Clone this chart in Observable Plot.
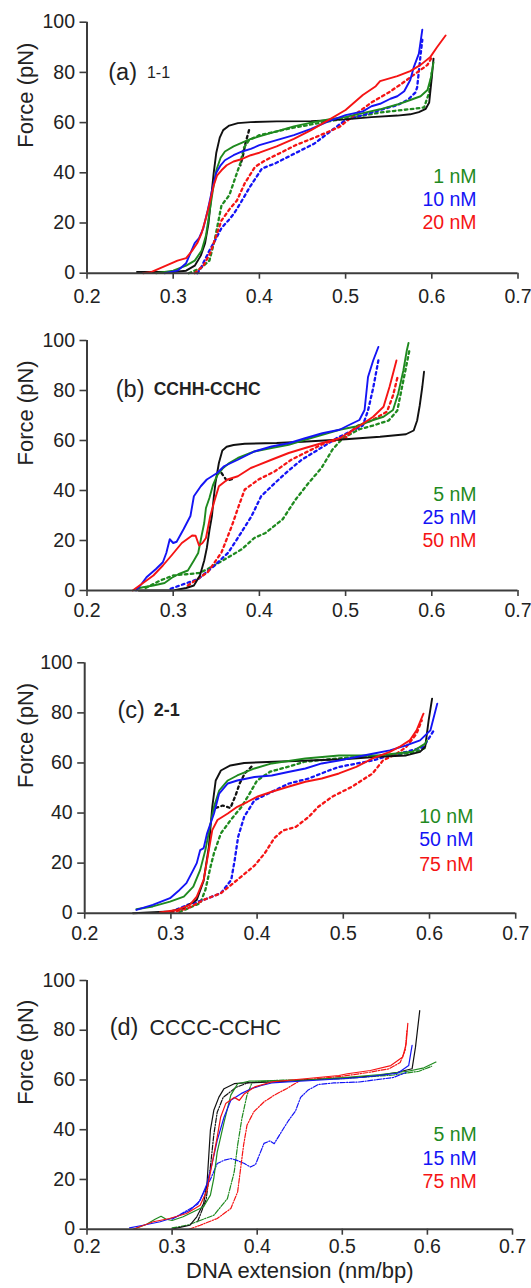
<!DOCTYPE html>
<html><head><meta charset="utf-8">
<script src="https://cdn.jsdelivr.net/npm/d3@7"></script>
<script src="https://cdn.jsdelivr.net/npm/@observablehq/plot@0.6"></script>
<style>
html,body{margin:0;padding:0;background:#fff;}
#chart{width:531px;}
#chart svg{display:block;}
</style></head><body><div id="chart"></div>
<script>
// ---------- tick values ----------
const xTicks = [0.2, 0.3, 0.4, 0.5, 0.6, 0.7];
const yTicks = [0, 20, 40, 60, 80, 100];

// ---------- legend labels ----------
const legendA = ["1 nM", "10 nM", "20 nM"];
const legendB = ["5 nM", "25 nM", "50 nM"];
const legendC = ["10 nM", "50 nM", "75 nM"];
const legendD = ["5 nM", "15 nM", "75 nM"];

// ---------- panel titles ----------
const titleTags = ["(a)", "(b)", "(c)", "(d)"];
const titleNames = ["1-1", "CCHH-CCHC", "2-1", "CCCC-CCHC"];

// ---------- panel (a) 1-1 : [extension nm/bp, force pN] ----------
const blackSolidA = [[0.258,0.5],[0.28,0.5],[0.3,0.5],[0.315,1],[0.325,3],[0.332,7],[0.337,12],[0.341,20],[0.344,30],[0.347,40],[0.35,48],[0.354,54],[0.358,57],[0.365,58.8],[0.375,59.8],[0.39,60.2],[0.42,60.5],[0.46,60.6],[0.5,61.3],[0.53,62.2],[0.56,62.8],[0.575,63.3],[0.585,64.2],[0.593,65.5],[0.597,68],[0.6,78],[0.602,85.5]];
const blackDotA = [[0.388,57],[0.384,52],[0.381,47],[0.378,43]];
const greenSolidA = [[0.28,0],[0.3,1],[0.315,3],[0.325,5],[0.333,9],[0.338,15],[0.342,24],[0.346,33],[0.35,41],[0.355,46],[0.36,48.5],[0.37,50.5],[0.38,52],[0.39,53.5],[0.4,54.5],[0.42,56.5],[0.44,58.5],[0.46,60],[0.48,61.3],[0.5,62.3],[0.52,63.8],[0.54,65.3],[0.56,67.2],[0.575,69],[0.587,70.5],[0.595,73],[0.599,78],[0.602,84]];
const greenDotA = [[0.318,0],[0.332,2],[0.342,5],[0.348,13],[0.352,20],[0.356,27],[0.365,31],[0.372,38],[0.378,44],[0.382,50],[0.388,53],[0.4,55],[0.44,58],[0.48,60.5],[0.52,62.8],[0.54,64],[0.56,64.8],[0.579,65.5],[0.591,66],[0.597,72],[0.6,80]];
const blueSolidA = [[0.29,0],[0.305,1],[0.315,4],[0.32,8],[0.325,12],[0.33,14],[0.335,18],[0.34,25],[0.345,33],[0.35,40],[0.355,43],[0.36,45],[0.37,47],[0.38,48.5],[0.39,49.5],[0.4,51],[0.42,53],[0.44,55],[0.46,57.5],[0.48,60.5],[0.5,63],[0.52,64.5],[0.53,66.5],[0.54,67.5],[0.552,69.5],[0.56,70.5],[0.568,72.5],[0.575,77],[0.579,82],[0.585,87.5],[0.589,97]];
const blueDotA = [[0.328,0],[0.332,2],[0.342,9],[0.35,14],[0.356,18],[0.364,21],[0.371,24],[0.379,28.5],[0.389,34.4],[0.403,41.7],[0.418,43.7],[0.441,47.7],[0.464,51.7],[0.488,58],[0.5,61],[0.52,63],[0.54,65],[0.56,67],[0.572,69],[0.581,72],[0.583,74],[0.587,87],[0.589,93]];
const redSolidA = [[0.265,0],[0.275,0.5],[0.285,2],[0.295,3.5],[0.305,5],[0.315,6],[0.322,9],[0.328,12],[0.333,16],[0.338,22],[0.343,29],[0.347,35],[0.351,39],[0.356,41],[0.362,43],[0.37,44.5],[0.38,45.5],[0.39,47],[0.4,48],[0.42,50.5],[0.44,53.5],[0.46,57],[0.48,61],[0.5,65],[0.52,71],[0.535,74.5],[0.54,76.5],[0.56,78.5],[0.575,80.5],[0.587,83],[0.598,86],[0.606,90],[0.616,94.7]];
const redDotA = [[0.325,0],[0.335,3],[0.343,8],[0.348,13],[0.356,21],[0.366,25.8],[0.374,29],[0.383,35.8],[0.395,42.4],[0.407,45],[0.423,47.7],[0.442,51],[0.466,54.3],[0.493,58.3],[0.51,63],[0.53,68],[0.55,72],[0.565,75.5],[0.575,78],[0.585,80.5],[0.595,83],[0.6,86]];

// ---------- panel (b) CCHH-CCHC ----------
const blackSolidB = [[0.26,0],[0.3,0],[0.315,1],[0.324,2],[0.331,6],[0.336,12],[0.339,17],[0.342,24],[0.345,30],[0.347,37],[0.349,43],[0.353,51],[0.357,56],[0.362,57.5],[0.37,58.2],[0.383,58.7],[0.42,59],[0.45,59.5],[0.5,60.5],[0.54,61.5],[0.57,62.5],[0.579,64],[0.583,68],[0.586,74],[0.589,81.5],[0.591,87.5]];
const blackDotB = [[0.356,47],[0.362,44],[0.368,44.5]];
const greenSolidB = [[0.257,0.7],[0.265,1.3],[0.277,2],[0.29,3],[0.298,5],[0.306,6.5],[0.317,8],[0.324,12],[0.329,15],[0.333,22],[0.336,27],[0.338,33],[0.342,37],[0.346,42],[0.351,46],[0.358,49],[0.365,51],[0.375,53],[0.394,55.6],[0.414,57],[0.434,58.3],[0.453,60.3],[0.473,62.3],[0.493,64.3],[0.512,65.6],[0.532,68.2],[0.544,69.5],[0.555,72.2],[0.561,78.8],[0.567,88],[0.571,96],[0.573,99]];
const greenDotB = [[0.268,1],[0.285,4],[0.3,6],[0.315,6.5],[0.33,7],[0.34,8.6],[0.36,12.5],[0.38,16.6],[0.394,21],[0.407,23],[0.427,28.5],[0.442,36.4],[0.457,43],[0.472,49],[0.485,56.5],[0.497,61],[0.516,64.5],[0.532,66],[0.55,68],[0.56,72],[0.567,84],[0.574,96]];
const blueSolidB = [[0.257,0],[0.263,2.5],[0.269,5.3],[0.28,8.6],[0.288,11.3],[0.292,15],[0.296,20.5],[0.3,19],[0.304,19.5],[0.312,24.5],[0.32,29.8],[0.324,37.7],[0.332,41.7],[0.339,44.4],[0.351,47],[0.359,49.7],[0.375,52.3],[0.394,55.6],[0.414,57.6],[0.434,58.9],[0.453,60.9],[0.473,62.9],[0.493,64.3],[0.504,66.2],[0.516,68.2],[0.522,72.2],[0.526,85.4],[0.532,92],[0.538,97.4]];
const blueDotB = [[0.297,0.7],[0.329,4.6],[0.348,10],[0.364,15.2],[0.379,23.2],[0.391,29.8],[0.402,37.7],[0.418,43],[0.433,47.7],[0.449,52.3],[0.468,56.3],[0.49,61],[0.505,63.5],[0.52,66],[0.526,72],[0.532,81],[0.538,92]];
const redSolidB = [[0.253,0],[0.265,3],[0.277,6],[0.288,10],[0.298,14],[0.31,19],[0.316,20.5],[0.322,22],[0.326,21.9],[0.33,18],[0.334,19],[0.338,21],[0.343,29.8],[0.348,36],[0.353,41.7],[0.363,44.4],[0.375,45.7],[0.39,49],[0.414,52.3],[0.434,55],[0.453,57],[0.473,59],[0.493,60.9],[0.512,64.9],[0.532,69.5],[0.544,73.5],[0.551,81.5],[0.559,92]];
const redDotB = [[0.317,2],[0.34,7.3],[0.356,15.2],[0.368,25.8],[0.376,33.8],[0.383,40.4],[0.399,44.4],[0.418,47.7],[0.437,52.3],[0.456,55.6],[0.476,59],[0.5,61],[0.512,65.6],[0.53,68],[0.548,71.5],[0.555,78],[0.56,85]];

// ---------- panel (c) 2-1 ----------
const blackSolidC = [[0.256,0],[0.299,0.7],[0.314,2],[0.33,5.3],[0.338,13],[0.344,26.5],[0.348,42.5],[0.352,53],[0.358,57],[0.369,59],[0.385,60],[0.42,60.5],[0.46,61],[0.5,61.5],[0.54,62.5],[0.573,63],[0.589,64.4],[0.595,66.4],[0.599,77],[0.603,85.7]];
const blackDotC = [[0.352,42],[0.36,43],[0.369,42],[0.375,47],[0.38,52],[0.386,56],[0.395,59]];
const greenSolidC = [[0.26,1.6],[0.279,2.7],[0.299,4.6],[0.315,6.6],[0.326,10.6],[0.334,17.3],[0.34,25.2],[0.346,35.9],[0.35,42.5],[0.356,49],[0.366,53],[0.377,55],[0.397,57.8],[0.417,59.8],[0.456,61.8],[0.495,63],[0.54,63],[0.58,64.5],[0.595,67.7],[0.597,69]];
const greenDotC = [[0.31,0.5],[0.334,4],[0.34,9.3],[0.346,18.6],[0.35,24],[0.358,31.9],[0.37,37.5],[0.382,42.5],[0.39,47],[0.4,53],[0.415,56.5],[0.436,58.5],[0.455,60.5],[0.5,62],[0.55,63],[0.58,64],[0.595,66]];
const blueSolidC = [[0.26,1.3],[0.279,3.3],[0.299,6],[0.31,9.3],[0.318,12],[0.326,17.3],[0.33,20],[0.334,25.2],[0.338,26],[0.342,31.9],[0.35,39.8],[0.356,47.8],[0.366,51.8],[0.377,53],[0.397,54.4],[0.417,55],[0.436,56.4],[0.456,57.8],[0.475,59.8],[0.495,61],[0.515,62.4],[0.534,63.7],[0.554,65],[0.573,67],[0.589,69],[0.601,73],[0.609,83.7]];
const blueDotC = [[0.3,0.5],[0.319,3.3],[0.338,5.3],[0.358,8],[0.37,13.3],[0.374,21.2],[0.378,30.5],[0.385,38.5],[0.397,45.1],[0.413,47.8],[0.437,51.8],[0.46,53.8],[0.484,57.1],[0.495,58.4],[0.534,61],[0.554,63],[0.573,64.4],[0.593,66.4],[0.605,73]];
const redSolidC = [[0.287,0.3],[0.307,1.3],[0.322,3.3],[0.33,6.6],[0.338,13.3],[0.344,25.2],[0.348,33.2],[0.354,37.2],[0.366,39.8],[0.377,42.5],[0.389,44.5],[0.4,46.5],[0.417,48.5],[0.436,50.5],[0.456,52.5],[0.475,53.8],[0.495,55.8],[0.515,58.4],[0.534,61.8],[0.554,64.4],[0.565,66.4],[0.577,69],[0.585,73],[0.593,79.7]];
const redDotC = [[0.3,0.3],[0.32,2],[0.338,5.3],[0.358,8],[0.377,13.3],[0.397,19],[0.409,24],[0.42,30],[0.43,33],[0.445,34.5],[0.46,38.5],[0.471,42.5],[0.487,46.5],[0.51,50.5],[0.534,55.8],[0.546,61],[0.562,63.7],[0.573,66.4],[0.585,71.7],[0.591,77]];

// ---------- panel (d) CCCC-CCHC ----------
const blackSolidD = [[0.3,0],[0.321,1.6],[0.329,5],[0.337,10.3],[0.341,18.3],[0.343,29],[0.345,39.8],[0.349,47.8],[0.355,53.1],[0.361,56.5],[0.373,58.5],[0.385,58.8],[0.42,59.2],[0.46,60],[0.5,60.8],[0.54,61.7],[0.565,63.1],[0.582,64.5],[0.586,73.2],[0.591,87.9]];
const blackDotD = [[0.33,3],[0.34,12],[0.345,25],[0.349,38],[0.353,47],[0.36,53],[0.375,57],[0.39,59]];
const greenSolidD = [[0.255,0],[0.27,2],[0.28,4],[0.287,5.2],[0.293,4],[0.3,3.5],[0.313,5],[0.325,7],[0.337,9],[0.345,13.7],[0.349,20.4],[0.353,31],[0.361,43],[0.369,53.9],[0.377,58.5],[0.39,59.5],[0.42,59.8],[0.46,60],[0.506,61.1],[0.545,62.2],[0.577,63.5],[0.596,64.9],[0.61,67.2]];
const greenDotD = [[0.3,0.5],[0.318,1.6],[0.349,5.6],[0.365,12.3],[0.373,23],[0.377,33.8],[0.382,44.5],[0.388,53.9],[0.394,59],[0.42,59.8],[0.5,60.5],[0.56,62],[0.59,63.5],[0.605,65.5]];
const blueSolidD = [[0.25,0.5],[0.266,1.6],[0.286,3],[0.305,5],[0.321,7.6],[0.333,11.6],[0.341,18.3],[0.347,26.4],[0.353,35.7],[0.361,45],[0.369,51.8],[0.381,54.5],[0.393,56.5],[0.405,57.8],[0.417,58.8],[0.45,59.5],[0.5,60.5],[0.525,61.1],[0.565,62.7],[0.578,65.8],[0.582,73.9]];
const blueDotD = [[0.3,4],[0.33,10],[0.345,20],[0.353,26.4],[0.361,27.7],[0.369,28.4],[0.376,27.7],[0.385,26.4],[0.392,25],[0.398,26],[0.408,34.5],[0.415,35.5],[0.42,34.4],[0.43,40],[0.437,43.8],[0.445,47.5],[0.451,53],[0.46,56],[0.472,58.2],[0.49,58.8],[0.52,59.2],[0.56,61],[0.575,63]];
const redSolidD = [[0.254,0],[0.278,3],[0.297,4.3],[0.317,6.3],[0.333,9.6],[0.341,15.7],[0.347,26.4],[0.353,37],[0.357,45],[0.363,50.5],[0.373,53],[0.379,51.8],[0.385,54.5],[0.397,57.2],[0.417,59.2],[0.456,60.5],[0.496,61.8],[0.506,62.5],[0.533,63.8],[0.557,65.8],[0.571,69.2],[0.575,74.5],[0.577,82.8]];
const redDotD = [[0.32,0],[0.333,1.6],[0.353,4.3],[0.369,8.3],[0.377,15],[0.38,23],[0.384,33.8],[0.388,41.8],[0.396,47.2],[0.408,51.2],[0.42,53.9],[0.435,56.6],[0.451,59.9],[0.5,61.5],[0.53,63],[0.555,64.5],[0.568,67],[0.574,72],[0.576,80]];

// ---------- styles ----------
const C = {black: "#111111", green: "#1f8a1f", blue: "#1414f5", red: "#f51414"};
const FONT = "'Liberation Sans', Arial, Helvetica, sans-serif";

const panels = [
  {solid: [blackSolidA, greenSolidA, blueSolidA, redSolidA], dot: [blackDotA, greenDotA, blueDotA, redDotA],
   legend: legendA, tag: titleTags[0], name: titleNames[0], nameWeight: "normal", nameSize: 16, nameSpacing: 0,
   tagX: 0.2247, nameX: 0.2695, titleY: 80, legX: 0.652, legY: [38.4, 29.3, 20.1],
   height: 318, mt: 21.7, mb: 45.3, ml: 86.5, mr: 13.5, thin: false, xlabel: false, tp: 10},
  {solid: [blackSolidB, greenSolidB, blueSolidB, redSolidB], dot: [blackDotB, greenDotB, blueDotB, redDotB],
   legend: legendB, tag: titleTags[1], name: titleNames[1], nameWeight: "bold", nameSize: 17.5, nameSpacing: 1,
   tagX: 0.2334, nameX: 0.2774, titleY: 80.5, legX: 0.652, legY: [38.4, 29.1, 19.9],
   height: 318, mt: 22, mb: 46, ml: 86.5, mr: 13.5, thin: false, xlabel: false, tp: 7},
  {solid: [blackSolidC, greenSolidC, blueSolidC, redSolidC], dot: [blackDotC, greenDotC, blueDotC, redDotC],
   legend: legendC, tag: titleTags[2], name: titleNames[2], nameWeight: "bold", nameSize: 18, nameSpacing: 0,
   tagX: 0.238, nameX: 0.28, titleY: 81, legX: 0.651, legY: [38.5, 29.2, 19.5],
   height: 318, mt: 26.3, mb: 41.3, ml: 84.2, mr: 15.8, thin: false, xlabel: false, tp: 7},
  {solid: [blackSolidD, greenSolidD, blueSolidD, redSolidD], dot: [blackDotD, greenDotD, blueDotD, redDotD],
   legend: legendD, tag: titleTags[3], name: titleNames[3], nameWeight: "normal", nameSize: 21.5, nameSpacing: 0,
   tagX: 0.2266, nameX: 0.2735, titleY: 81, legX: 0.658, legY: [37.8, 28.4, 19.0],
   height: 334, mt: 26, mb: 59.3, ml: 86.5, mr: 19, thin: true, xlabel: true, tp: 4}
];
const colors = [C.black, C.green, C.blue, C.red];

const root = document.getElementById("chart");
for (const p of panels) {
  const sw = p.thin ? 1.2 : 1.9;
  const dash = p.thin ? "5,1.5,1.2,1.5" : "2.6,3.4";
  const dsw = p.thin ? 1.2 : 2.3;
  const marks = [];
  p.dot.forEach((arr, i) => marks.push(Plot.line(arr, {x: d => d[0], y: d => d[1], stroke: colors[i], strokeWidth: dsw, strokeDasharray: dash})));
  p.solid.forEach((arr, i) => marks.push(Plot.line(arr, {x: d => d[0], y: d => d[1], stroke: colors[i], strokeWidth: sw})));
  marks.push(
    Plot.ruleX([0.2], {stroke: "#3c3c3c", strokeWidth: 2}),
    Plot.ruleY([0], {stroke: "#3c3c3c", strokeWidth: 2}),
    Plot.axisX({ticks: xTicks, tickFormat: d => d.toFixed(1), tickSize: 6, tickPadding: p.tp, stroke: "#3c3c3c", strokeWidth: 1.6, fill: "#222", fontSize: 19.5, label: null}),
    Plot.axisY({ticks: yTicks, tickFormat: d => String(d), tickSize: 7, tickPadding: 5, stroke: "#3c3c3c", strokeWidth: 1.6, fill: "#222", fontSize: 19.5, label: null}),
    Plot.text(["Force (pN)"], {frameAnchor: "left", rotate: -90, dx: 25 - p.ml, fontSize: 22, fill: "#222"}),
    Plot.text([p.tag], {x: () => p.tagX, y: () => p.titleY, textAnchor: "start", fontSize: 23.5, fill: "#222"}),
    Plot.text([p.name], {x: () => p.nameX, y: () => p.titleY, textAnchor: "start", fontSize: p.nameSize, fontWeight: p.nameWeight, fill: "#222", letterSpacing: p.nameSpacing}),
    Plot.text(p.legend, {x: () => p.legX, y: (d, i) => p.legY[i], textAnchor: "end", fontSize: 19.5, fill: (d, i) => [C.green, C.blue, C.red][i]})
  );
  if (p.xlabel) marks.push(Plot.text(["DNA extension (nm/bp)"], {frameAnchor: "bottom", dy: 48.5, fontSize: 22, fill: "#222"}));
  const svg = Plot.plot({
    width: 531, height: p.height,
    marginTop: p.mt, marginBottom: p.mb, marginLeft: p.ml, marginRight: p.mr,
    x: {domain: [0.2, 0.7]},
    y: {domain: [0, 100]},
    style: {fontFamily: FONT, background: "white", color: "#222", overflow: "visible"},
    marks
  });
  root.appendChild(svg);
}
</script>
</body></html>
